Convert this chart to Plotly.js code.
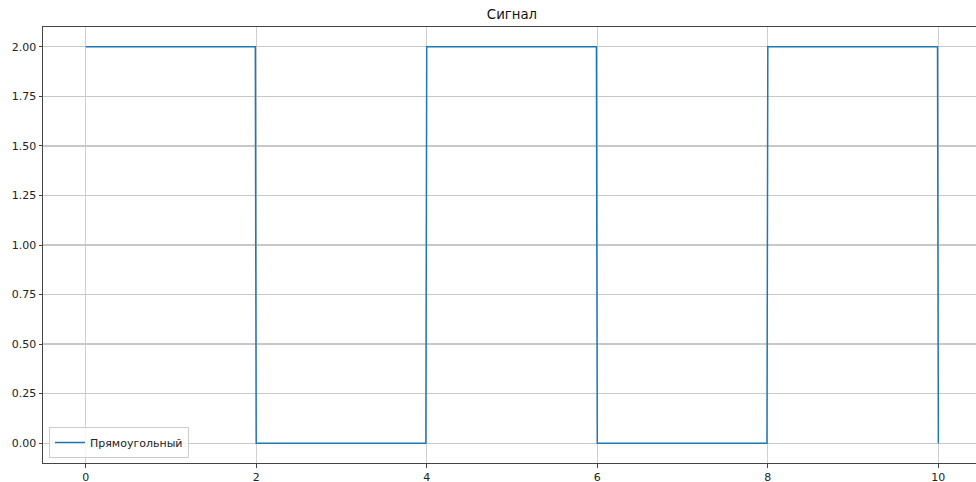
<!DOCTYPE html>
<html>
<head>
<meta charset="utf-8">
<script src="https://cdn.plot.ly/plotly-3.0.1.min.js"></script>
<style>
  html, body { margin: 0; padding: 0; overflow: hidden; background: #fff; }
  #chart { width: 1000px; height: 482px; }
</style>
</head>
<body>
<div id="chart"></div>
<script>
// Square wave sampled on a fine time grid: level 2 on [0,2), 0 on [2,4), ...
const seriesName = 'Прямоугольный';
const timeValues = [0, 1.99, 2.0, 3.99, 4.0, 5.99, 6.0, 7.99, 8.0, 9.99, 10.0];
const signalValues = [2, 2, 0, 0, 2, 2, 0, 0, 2, 2, 0];
const xTicks = [0, 2, 4, 6, 8, 10];
const yTicks = [0, 0.25, 0.5, 0.75, 1.0, 1.25, 1.5, 1.75, 2.0];

const axisFont = { family: 'DejaVu Sans, sans-serif', size: 11, color: '#222' };

const trace = {
  x: timeValues,
  y: signalValues,
  mode: 'lines',
  name: seriesName,
  line: { color: '#1f77b4', width: 1.5 },
  showlegend: true
};

const layout = {
  width: 1000,
  height: 482,
  margin: { l: 43, r: 19, t: 27, b: 19 },
  paper_bgcolor: '#ffffff',
  plot_bgcolor: '#ffffff',
  title: {
    text: 'Сигнал',
    font: { family: 'DejaVu Sans, sans-serif', size: 13.3, color: '#111' },
    x: 0.5, xanchor: 'center', xref: 'paper',
    y: 1, yref: 'paper', yanchor: 'bottom', pad: { b: 8 }
  },
  xaxis: {
    range: [-0.5, 10.5],
    tickvals: xTicks,
    ticktext: xTicks.map(String),
    ticks: 'outside', ticklen: 3.5, tickwidth: 1, tickcolor: '#444',
    tickfont: axisFont,
    showgrid: true, gridcolor: '#d0d0d0', gridwidth: 1,
    zeroline: false,
    showline: true, linecolor: '#444', linewidth: 1, mirror: true
  },
  yaxis: {
    range: [-0.1, 2.1],
    tickvals: yTicks,
    ticktext: yTicks.map(v => v.toFixed(2)),
    ticks: 'outside', ticklen: 3.5, tickwidth: 1, tickcolor: '#444',
    tickfont: axisFont,
    showgrid: true, gridcolor: '#c8c8c8', gridwidth: 1.2,
    zeroline: false,
    showline: true, linecolor: '#444', linewidth: 1, mirror: true
  },
  legend: {
    x: 0.0064, y: 0.0115, xanchor: 'left', yanchor: 'bottom',
    bgcolor: 'rgba(255,255,255,0.8)',
    bordercolor: '#cccccc', borderwidth: 1,
    font: { family: 'DejaVu Sans, sans-serif', size: 11, color: '#222' },
    itemwidth: 30
  }
};

Plotly.newPlot('chart', [trace], layout, { staticPlot: true, displayModeBar: false });
</script>
</body>
</html>
